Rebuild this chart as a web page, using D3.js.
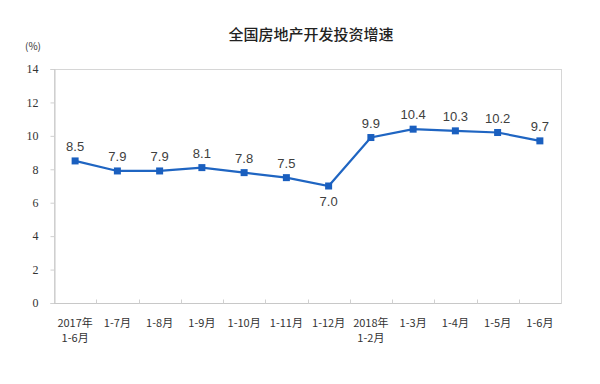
<!DOCTYPE html>
<html>
<head>
<meta charset="utf-8">
<script src="https://cdn.jsdelivr.net/npm/d3@7"></script>
<style>
  body { margin: 0; background: #fff; }
  svg { display: block; }
</style>
</head>
<body>
<div id="chart"></div>
<script>
// categories (x labels, two lines where needed)
const periods = [
  ['2017年', '1-6月'], ['1-7月'], ['1-8月'], ['1-9月'], ['1-10月'], ['1-11月'],
  ['1-12月'], ['2018年', '1-2月'], ['1-3月'], ['1-4月'], ['1-5月'], ['1-6月']
];
const growth = [8.5, 7.9, 7.9, 8.1, 7.8, 7.5, 7.0, 9.9, 10.4, 10.3, 10.2, 9.7];
const yTicks = [0, 2, 4, 6, 8, 10, 12, 14];

const width = 600, height = 384;
const margin = { top: 69, right: 39, bottom: 81, left: 54 };
const cWidth = width - margin.left - margin.right;
const cHeight = height - margin.top - margin.bottom;

const svg = d3.select('#chart').append('svg')
  .attr('width', width).attr('height', height);

svg.append('text')
  .attr('x', 311).attr('y', 40)
  .attr('text-anchor', 'middle')
  .style('font-family', '"Noto Sans CJK SC", sans-serif')
  .style('font-size', '15px')
  .style('font-weight', 500)
  .attr('fill', '#222')
  .text('全国房地产开发投资增速');

svg.append('text')
  .attr('x', 33).attr('y', 50)
  .attr('text-anchor', 'middle')
  .style('font-family', '"Noto Sans CJK SC", serif')
  .style('font-size', '10px')
  .attr('fill', '#333')
  .text('(%)');

const g = svg.append('g').attr('transform', `translate(${margin.left},${margin.top})`);

const x = d3.scaleBand().domain(d3.range(periods.length)).range([0, cWidth]);
const y = d3.scaleLinear().domain([0, 14]).range([cHeight, 0]);

// plot border
g.append('rect')
  .attr('x', 0.5).attr('y', 0.5)
  .attr('width', cWidth).attr('height', cHeight)
  .attr('fill', 'none').attr('stroke', '#d6d6d6');

// y axis
const yAxis = g.append('g').call(d3.axisLeft(y).tickValues(yTicks).tickSize(4).tickPadding(12))
  .attr('transform', 'translate(0.5,0)');
yAxis.select('.domain').attr('stroke', '#c8c8c8');
yAxis.selectAll('.tick line').attr('stroke', '#d0d0d0');
yAxis.selectAll('.tick text')
  .style('font-family', '"Liberation Serif", serif')
  .style('font-size', '12px')
  .attr('fill', '#333');

// x axis
const xAxis = g.append('g').attr('transform', `translate(0,${cHeight + 0.5})`);
xAxis.append('line').attr('x1', 0).attr('x2', cWidth).attr('stroke', '#c8c8c8');
xAxis.selectAll('line.tk').data(d3.range(1, periods.length))
  .join('line').attr('class', 'tk')
  .attr('x1', d => Math.round(x(d)) + 0.5).attr('x2', d => Math.round(x(d)) + 0.5)
  .attr('y1', 0).attr('y2', -4)
  .attr('stroke', '#d0d0d0');
periods.forEach((lines, i) => {
  lines.forEach((t, j) => {
    xAxis.append('text')
      .attr('x', x(i) + x.bandwidth() / 2)
      .attr('y', 23 + j * 15.5)
      .attr('text-anchor', 'middle')
      .style('font-family', '"Noto Sans CJK SC", serif')
      .style('font-size', '11px')
      .attr('fill', '#333')
      .text(t);
  });
});

// line
const cx = i => x(i) + x.bandwidth() / 2;
const line = d3.line().x((d, i) => cx(i)).y(d => y(d));
g.append('path').datum(growth)
  .attr('d', line)
  .attr('fill', 'none')
  .attr('stroke', '#1f65c2')
  .attr('stroke-width', 2.2);

g.selectAll('rect.pt').data(growth)
  .join('rect').attr('class', 'pt')
  .attr('x', (d, i) => cx(i) - 3.5).attr('y', d => y(d) - 3.5)
  .attr('width', 7).attr('height', 7)
  .attr('fill', '#1a5fbf');

g.selectAll('text.val').data(growth)
  .join('text').attr('class', 'val')
  .attr('x', (d, i) => cx(i))
  .attr('y', (d, i) => i === 6 ? y(d) + 20 : y(d) - 10)
  .attr('text-anchor', 'middle')
  .style('font-family', '"Liberation Sans", Arial, sans-serif')
  .style('font-size', '13px')
  .attr('fill', '#404040')
  .text(d => d.toFixed(1));
</script>
</body>
</html>
